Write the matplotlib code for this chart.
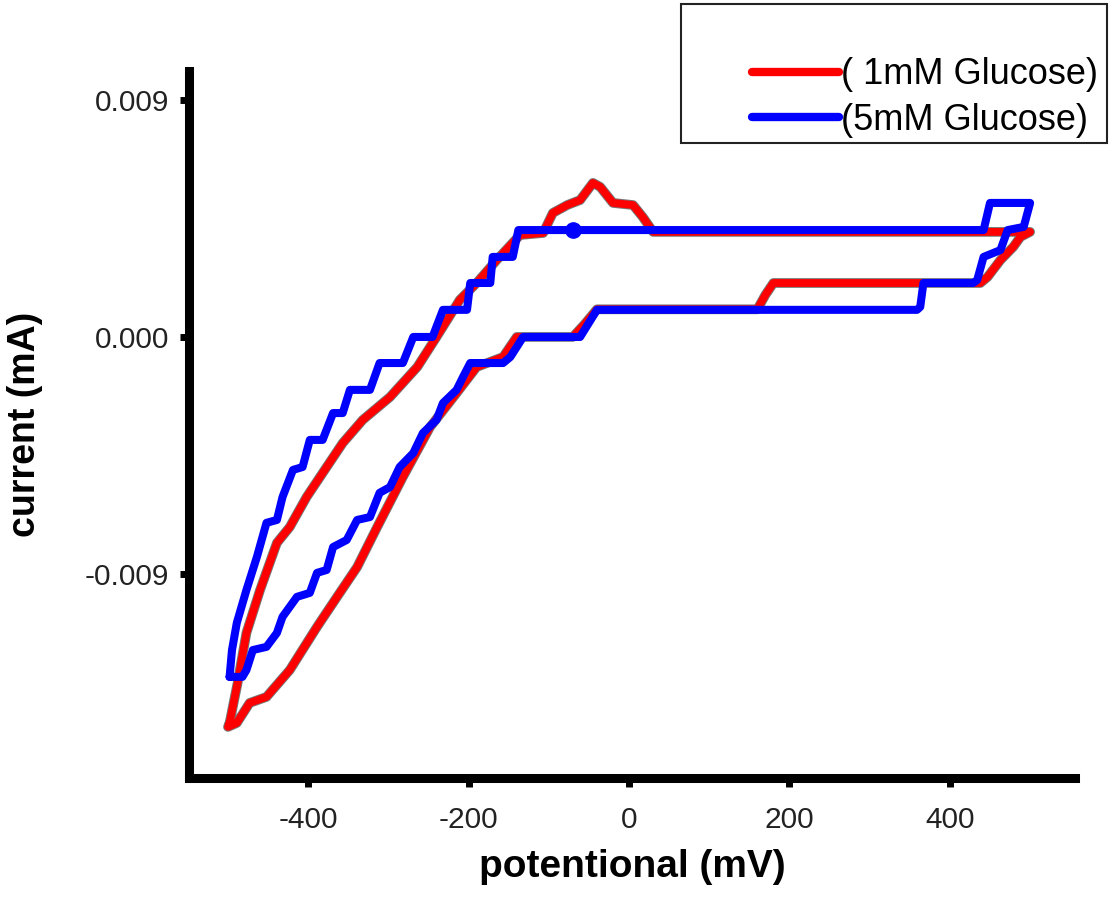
import matplotlib

matplotlib.use("Agg")
import matplotlib.pyplot as plt
from matplotlib.patches import Rectangle
from matplotlib.ticker import AutoMinorLocator, FormatStrFormatter, MultipleLocator

plt.rcParams["font.family"] = ["Liberation Sans", "DejaVu Sans"]
plt.rcParams["axes.unicode_minus"] = False

# 1 mM glucose loop (potential in mV, current in 1e-3 mA)
red_mv = [-498, -488, -477, -460, -439, -423, -402, -377, -357, -332, -298, -264, -240,
          -211, -190, -165, -136, -107, -95, -77, -61, -45, -36, -20, 5, 17, 30, 500,
          488, 479, 463, 447, 438, 180, 170, 160, -40, -55, -70, -140, -157, -190, -215,
          -248, -282, -314, -339, -364, -389, -423, -452, -473, -489, -500, -498]
red_ua = [-14.66, -13.14, -11.24, -9.61, -7.82, -7.22, -6.08, -4.94, -4.03, -3.15, -2.28,
          -1.14, 0.0, 1.41, 2.05, 2.92, 3.87, 3.95, 4.71, 5.01, 5.20, 5.85, 5.70, 5.09,
          5.01, 4.56, 3.99, 3.99, 3.80, 3.42, 2.92, 2.28, 2.05, 2.05, 1.60, 1.05, 1.05,
          0.50, 0.0, 0.0, -0.76, -1.14, -2.13, -3.42, -5.32, -7.22, -8.74, -9.87, -11.01,
          -12.65, -13.67, -13.90, -14.66, -14.81, -14.66]

# 5 mM glucose loop
blue_mv = [-498, -495, -489, -477, -464, -452, -439, -432, -419, -407, -398, -382, -369,
           -357, -348, -323, -311, -282, -269, -245, -232, -202, -198, -173, -170, -145,
           -138, -70, 442, 450, 500, 492, 472, 463, 442, 434, 429, 367, 363, 359, -40,
           -61, -92, -132, -148, -157, -198, -207, -215, -232, -240, -257, -269, -286,
           -298, -311, -323, -339, -352, -369, -377, -389, -398, -414, -423, -432, -439,
           -452, -469, -477, -482, -498]
blue_ua = [-12.91, -11.89, -10.86, -9.61, -8.36, -7.06, -6.95, -6.08, -5.05, -4.94, -3.91,
           -3.91, -2.89, -2.89, -2.01, -2.01, -0.99, -0.99, 0.0, 0.0, 1.03, 1.03, 2.05,
           2.05, 3.04, 3.04, 4.06, 4.06, 4.06, 5.09, 5.09, 4.18, 4.06, 3.30, 3.04, 2.16,
           2.05, 2.05, 1.14, 1.03, 1.03, 0.0, 0.0, 0.0, -0.76, -0.99, -0.99, -1.52, -2.01,
           -2.51, -3.15, -3.65, -4.41, -4.94, -5.70, -5.92, -6.84, -6.95, -7.71, -7.98,
           -8.85, -8.96, -9.72, -9.87, -10.25, -10.63, -11.24, -11.77, -11.89, -12.65,
           -12.91, -12.91]
blue_marker_idx = 27

labels = ["( 1mM Glucose)", "(5mM Glucose)"]

fig = plt.figure(figsize=(11.10, 8.99), dpi=100)
ax = fig.add_axes([0.1707, 0.1346, 0.7978, 0.7864])

red_ma = [v / 1000 for v in red_ua]
blue_ma = [v / 1000 for v in blue_ua]

ax.plot(red_mv, red_ma, color="#555555", lw=7.0, alpha=0.8, solid_joinstyle="round",
        solid_capstyle="round", zorder=2)
red_line, = ax.plot(red_mv, red_ma, color="#ff0000", lw=5.6, solid_joinstyle="round",
                    solid_capstyle="round", zorder=3, label=labels[0])
blue_line, = ax.plot(blue_mv, blue_ma, color="#0000ff", lw=5.8, solid_joinstyle="round",
                     solid_capstyle="round", marker="o", markersize=11,
                     markevery=[blue_marker_idx], zorder=4, label=labels[1])

ax.set_xlim(-548, 556)
ax.set_ylim(-0.01675, 0.0101)

for side in ["top", "right"]:
    ax.spines[side].set_visible(False)
for side in ["left", "bottom"]:
    ax.spines[side].set_linewidth(6.5)
    ax.spines[side].set_color("black")

ax.xaxis.set_major_locator(MultipleLocator(200))
ax.xaxis.set_minor_locator(AutoMinorLocator(2))
ax.yaxis.set_major_locator(MultipleLocator(0.009))
ax.yaxis.set_minor_locator(AutoMinorLocator(2))
ax.yaxis.set_major_formatter(FormatStrFormatter("%.3f"))

ax.tick_params(axis="both", which="major", direction="out", length=6.5, width=5,
               labelsize=21.5, labelcolor="#222222")
ax.tick_params(axis="both", which="minor", direction="out", length=2.5, width=4)
ax.tick_params(axis="x", which="major", pad=14)
ax.tick_params(axis="y", which="major", pad=8)

ax.set_xlabel("potentional (mV)", fontsize=28, fontweight="bold")
ax.set_ylabel("current (mA)", fontsize=27, fontweight="bold")
ax.xaxis.set_label_coords(0.5, -0.10)
ax.yaxis.set_label_coords(-0.165, 0.5)

# legend box sits in the top-right corner, partly over the axes
fig.patches.append(Rectangle((681 / 1110, 1 - 143 / 899), 426 / 1110, 139 / 899,
                             transform=fig.transFigure, fill=True, facecolor="white",
                             edgecolor="#222222", lw=1.5, zorder=5))
leg = fig.legend(handles=[red_line, blue_line], loc="upper left",
                 bbox_to_anchor=(738 / 1110, 1 - 43 / 899), frameon=False, fontsize=26,
                 handlelength=2.4, handletextpad=0.05, labelspacing=0.28,
                 borderaxespad=0)
leg.set_zorder(6)
for h in leg.legend_handles:
    h.set_marker("")
    h.set_linewidth(6)

fig.savefig("out.png", dpi=100)
